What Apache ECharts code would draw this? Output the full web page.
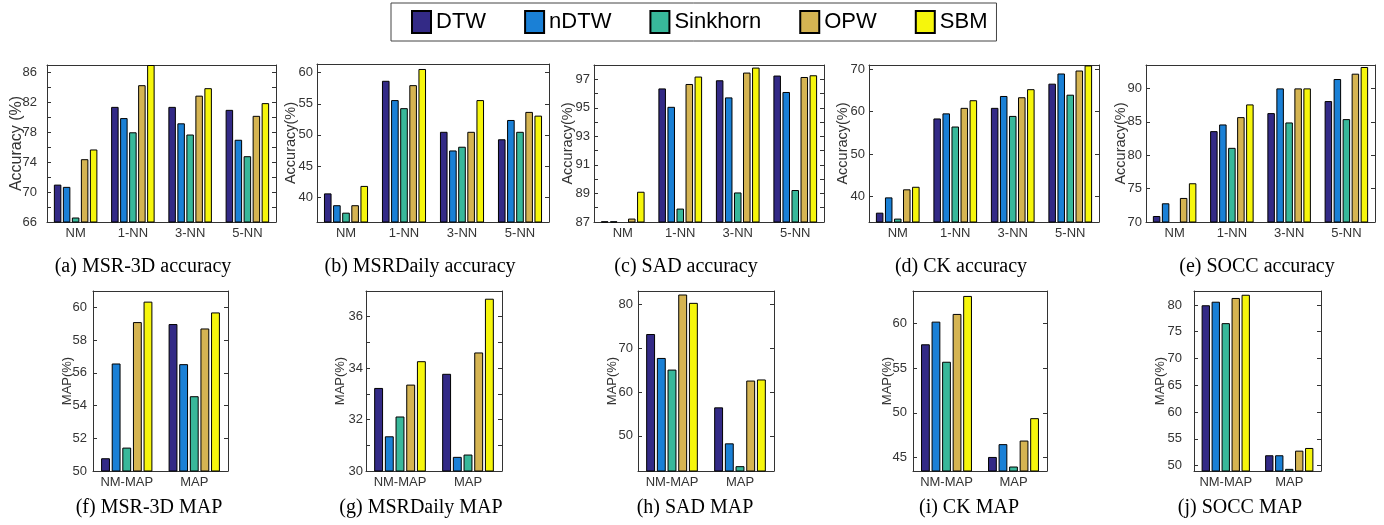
<!DOCTYPE html>
<html>
<head>
<meta charset="utf-8">
<script src="https://cdn.jsdelivr.net/npm/echarts@6/dist/echarts.min.js"></script>
<style>
  html, body { margin: 0; padding: 0; background: #fff; }
  #chart { width: 1384px; height: 525px; }
</style>
</head>
<body>
<div id="chart"></div>
<script>
// methods and categories
const methods = ['DTW', 'nDTW', 'Sinkhorn', 'OPW', 'SBM'];
const accCats = ['NM', '1-NN', '3-NN', '5-NN'];
const mapCats = ['NM-MAP', 'MAP'];

// rows: DTW, nDTW, Sinkhorn, OPW, SBM
const msr3dAcc = [
  [71.0, 81.4, 81.4, 81.0],
  [70.7, 79.9, 79.2, 77.0],
  [66.6, 78.0, 77.7, 74.8],
  [74.4, 84.3, 82.9, 80.2],
  [75.7, 87.0, 83.9, 81.9]
];
const msrDailyAcc = [
  [40.6, 58.7, 50.5, 49.3],
  [38.7, 55.6, 47.5, 52.4],
  [37.5, 54.3, 48.1, 50.5],
  [38.7, 58.0, 50.5, 53.7],
  [41.8, 60.6, 55.6, 53.1]
];
const sadAcc = [
  [87.05, 96.36, 96.93, 97.26],
  [87.05, 95.07, 95.73, 96.11],
  [87.03, 87.94, 89.07, 89.24],
  [87.24, 96.67, 97.47, 97.16],
  [89.12, 97.19, 97.82, 97.28]
];
const ckAcc = [
  [36.2, 58.4, 60.9, 66.6],
  [39.8, 59.6, 63.7, 69.0],
  [34.8, 56.5, 59.0, 64.0],
  [41.7, 60.9, 63.4, 69.7],
  [42.3, 62.7, 65.3, 70.9]
];
const soccAcc = [
  [70.9, 83.6, 86.3, 88.1],
  [72.8, 84.6, 90.0, 91.4],
  [70.0, 81.1, 84.9, 85.4],
  [73.6, 85.7, 90.0, 92.2],
  [75.8, 87.6, 90.0, 93.2]
];

const msr3dMap = [[50.78, 58.98], [56.57, 56.53], [51.43, 54.57], [59.10, 58.71], [60.35, 59.69]];
const msrDailyMap = [[33.23, 33.78], [31.35, 30.55], [32.12, 30.64], [33.36, 34.61], [34.27, 36.70]];
const sadMap = [[73.2, 56.5], [67.75, 48.3], [65.1, 43.1], [82.2, 62.6], [80.3, 62.85]];
const ckMap = [[57.65, 45.07], [60.18, 46.5], [55.7, 44.0], [61.04, 46.9], [63.05, 49.4]];
const soccMap = [[79.94, 51.94], [80.6, 51.94], [76.6, 49.4], [81.3, 52.8], [81.9, 53.3]];

// tick labels and tick marks
const msr3dAccTicks = [66, 70, 74, 78, 82, 86];
const msr3dAccMarks = [66, 68, 70, 72, 74, 76, 78, 80, 82, 84, 86];
const msrDailyAccTicks = [40, 45, 50, 55, 60];
const sadAccTicks = [87, 89, 91, 93, 95, 97];
const sadAccMarks = [87, 88, 89, 90, 91, 92, 93, 94, 95, 96, 97];
const ckAccTicks = [40, 50, 60, 70];
const soccAccTicks = [70, 75, 80, 85, 90];
const msr3dMapTicks = [50, 52, 54, 56, 58, 60];
const msrDailyMapTicks = [30, 32, 34, 36];
const msrDailyMapMarks = [30, 31, 32, 33, 34, 35, 36];
const sadMapTicks = [50, 60, 70, 80];
const ckMapTicks = [45, 50, 55, 60];
const soccMapTicks = [50, 55, 60, 65, 70, 75, 80];

const colors = ['#332a86', '#1a80d6', '#38b89a', '#d5b452', '#f6f60c'];

// rect: left, top, width, height; gap: y name gap; lm: y label margin; nf: y name font size
const panels = [
  { data: msr3dAcc, cats: accCats, min: 66, max: 87, ticks: msr3dAccTicks, marks: msr3dAccMarks, yName: 'Accuracy (%)', caption: '(a) MSR-3D accuracy', rect: [47, 65, 229, 157], gap: 22, lm: 10, nf: 16, cx: 138 },
  { data: msrDailyAcc, cats: accCats, min: 36, max: 61.4, ticks: msrDailyAccTicks, marks: msrDailyAccTicks, yName: 'Accuracy(%)', caption: '(b) MSRDaily accuracy', rect: [317, 64, 232, 158], gap: 19, lm: 4, nf: 14.5, cx: 415 },
  { data: sadAcc, cats: accCats, min: 87, max: 98, ticks: sadAccTicks, marks: sadAccMarks, yName: 'Accuracy(%)', caption: '(c) SAD accuracy', rect: [594, 65, 230, 157], gap: 19, lm: 4, nf: 14.5, cx: 681 },
  { data: ckAcc, cats: accCats, min: 34, max: 71, ticks: ckAccTicks, marks: ckAccTicks, yName: 'Accuracy(%)', caption: '(d) CK accuracy', rect: [869, 65, 230, 157], gap: 19, lm: 4, nf: 14.5, cx: 956 },
  { data: soccAcc, cats: accCats, min: 70, max: 93.5, ticks: soccAccTicks, marks: soccAccTicks, yName: 'Accuracy(%)', caption: '(e) SOCC accuracy', rect: [1146, 65, 229, 157], gap: 18, lm: 4, nf: 14.5, cx: 1252 },
  { data: msr3dMap, cats: mapCats, min: 50, max: 61, ticks: msr3dMapTicks, marks: msr3dMapTicks, yName: 'MAP(%)', caption: '(f) MSR-3D MAP', rect: [93, 291, 135, 180], gap: 19, lm: 6, nf: 13, cx: 144 },
  { data: msrDailyMap, cats: mapCats, min: 30, max: 37, ticks: msrDailyMapTicks, marks: msrDailyMapMarks, yName: 'MAP(%)', caption: '(g) MSRDaily MAP', rect: [366, 291, 136, 180], gap: 19, lm: 3, nf: 13, cx: 416 },
  { data: sadMap, cats: mapCats, min: 42, max: 83, ticks: sadMapTicks, marks: sadMapTicks, yName: 'MAP(%)', caption: '(h) SAD MAP', rect: [638, 291, 136, 180], gap: 19, lm: 5, nf: 13, cx: 690 },
  { data: ckMap, cats: mapCats, min: 43.5, max: 63.6, ticks: ckMapTicks, marks: ckMapTicks, yName: 'MAP(%)', caption: '(i) CK MAP', rect: [913, 291, 134, 180], gap: 19, lm: 6, nf: 13, cx: 964 },
  { data: soccMap, cats: mapCats, min: 49, max: 82.6, ticks: soccMapTicks, marks: soccMapTicks, yName: 'MAP(%)', caption: '(j) SOCC MAP', rect: [1194, 291, 127, 180], gap: 27, lm: 12, nf: 13, cx: 1235 }
];

const axisColor = '#333';
const labelFont = { fontFamily: 'Liberation Sans', fontSize: 13, color: '#333' };

const grids = [], xAxes = [], yAxes = [], series = [], titles = [];
panels.forEach((p, i) => {
  grids.push({ left: p.rect[0], top: p.rect[1], width: p.rect[2], height: p.rect[3] });
  const xBase = {
    gridIndex: i, type: 'category', data: p.cats,
    axisLine: { lineStyle: { color: axisColor, width: 1 } },
    axisTick: { inside: true, alignWithLabel: true, length: 3, lineStyle: { color: axisColor } },
    splitLine: { show: false }
  };
  xAxes.push(Object.assign({}, xBase, { position: 'bottom', axisLabel: Object.assign({ margin: 5, interval: 0 }, labelFont) }));
  xAxes.push(Object.assign({}, xBase, { position: 'top', axisLabel: { show: false } }));
  const yBase = {
    gridIndex: i, type: 'value', min: p.min, max: p.max,
    axisLine: { show: true, lineStyle: { color: axisColor, width: 1 } },
    axisTick: { show: true, inside: true, length: 4, customValues: p.marks, lineStyle: { color: axisColor } },
    splitLine: { show: false }
  };
  yAxes.push(Object.assign({}, yBase, {
    position: 'left',
    name: p.yName, nameLocation: 'middle', nameRotate: 90, nameGap: p.gap,
    nameMoveOverlap: false,
    nameTextStyle: { fontFamily: 'Liberation Sans', fontSize: p.nf, color: '#333' },
    axisLabel: Object.assign({ customValues: p.ticks, margin: p.lm }, labelFont)
  }));
  yAxes.push(Object.assign({}, yBase, { position: 'right', axisLabel: { show: false } }));
  methods.forEach((m, k) => {
    series.push({
      type: 'bar', name: m,
      xAxisIndex: 2 * i, yAxisIndex: 2 * i,
      data: p.data[k],
      barGap: '20%', barCategoryGap: '24%',
      itemStyle: { color: colors[k], borderColor: '#000', borderWidth: 1 }
    });
  });
  titles.push({
    text: p.caption, left: p.cx, top: i < 5 ? 252 : 493, textAlign: 'center',
    textStyle: { fontFamily: 'Liberation Serif', fontSize: 20, fontWeight: 'normal', color: '#000' }
  });
});

const chart = echarts.init(document.getElementById('chart'));
chart.setOption({
  animation: false,
  title: titles,
  legend: {
    data: methods,
    left: 391, top: 3,
    padding: [7, 9, 7, 20],
    borderColor: '#444', borderWidth: 1,
    itemWidth: 19, itemHeight: 22, itemGap: 38,
    icon: 'rect',
    textStyle: { fontFamily: 'Liberation Sans', fontSize: 22, color: '#000' }
  },
  grid: grids,
  xAxis: xAxes,
  yAxis: yAxes,
  series: series
});
</script>
</body>
</html>
